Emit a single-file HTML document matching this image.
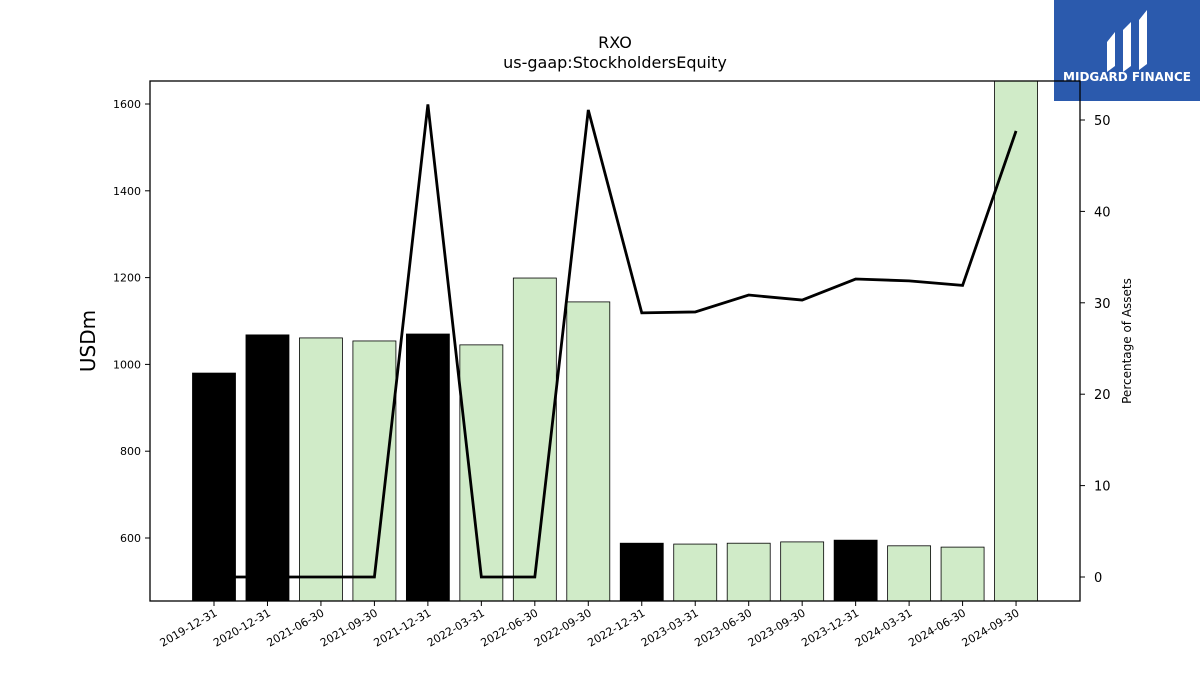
<!DOCTYPE html>
<html><head><meta charset="utf-8"><style>
body{margin:0;background:#fff;}
svg text{font-family:"DejaVu Sans","Liberation Sans",sans-serif;}
</style></head><body>
<svg id="c" width="1200" height="675" xmlns="http://www.w3.org/2000/svg">
<rect x="1054" y="0" width="146" height="101" fill="#2b5aad"/>
<g fill="#fff">
<path d="M1107 42 L1115 32 L1115 66 L1107 72 Z"/>
<path d="M1123 30 L1131 22 L1131 66 L1123 72 Z"/>
<path d="M1139 20 L1147 10 L1147 64 L1139 70 Z"/>
</g>
<text x="1127" y="81" fill="#fff" font-size="12" font-weight="bold" text-anchor="middle">MIDGARD FINANCE</text>
<text x="615" y="48" font-size="16" text-anchor="middle">RXO</text>
<text x="615" y="68" font-size="16" text-anchor="middle">us-gaap:StockholdersEquity</text>
<g id="bars"></g><g id="axes"></g>
<rect x="150" y="81" width="930" height="520" fill="none" stroke="#000" stroke-width="1.3"/>
<text transform="translate(95,341) rotate(-90)" font-size="20" text-anchor="middle">USDm</text>
<text transform="translate(1131,341) rotate(-90)" font-size="12" text-anchor="middle">Percentage of Assets</text>
</svg>
<script>
const categories=["2019-12-31","2020-12-31","2021-06-30","2021-09-30","2021-12-31","2022-03-31","2022-06-30","2022-09-30","2022-12-31","2023-03-31","2023-06-30","2023-09-30","2023-12-31","2024-03-31","2024-06-30","2024-09-30"];
const equity=[980,1068,1061,1054,1070,1045,1199,1144,588,586,588,591,595,582,579,1700];
const pctAssets=[0,0,0,0,51.7,0,0,51.1,28.9,29.0,30.85,30.3,32.6,32.4,31.9,48.8];
const leftTicks=[600,800,1000,1200,1400,1600];
const rightTicks=[0,10,20,30,40,50];
const NS="http://www.w3.org/2000/svg";
const X0=150,X1=1080,Y0=81,Y1=601;
const yL=v=>538-(v-600)*0.434;
const yR=v=>577-v*9.14;
const step=(X1-X0-80)/ (categories.length-1);
const xC=i=>214+i*53.47;
function mk(t,a,p){const e=document.createElementNS(NS,t);for(const k in a)e.setAttribute(k,a[k]);(p||document.getElementById('c')).appendChild(e);return e;}
const bars=document.getElementById('bars'),axes=document.getElementById('axes');
categories.forEach((c,i)=>{
 const top=Math.max(yL(equity[i]),Y0);
 const b=mk('rect',{x:xC(i)-21.5,y:top,width:43,height:Y1-top,fill:c.endsWith('12-31')?'#000':'#d0ebc8',stroke:'#000','stroke-width':0.8},bars);
 
 
 const t=mk('line',{x1:xC(i),x2:xC(i),y1:Y1,y2:Y1+5,stroke:'#000'},axes);
 
 
 const l=mk('text',{transform:`translate(${xC(i)+4},${Y1+14}) rotate(-30)`,'font-size':11,'text-anchor':'end'},axes);
 l.textContent=c;
 
 
});
leftTicks.forEach(v=>{
 const t=mk('line',{x1:X0-5,x2:X0,y1:yL(v),y2:yL(v),stroke:'#000'},axes);
 
 
 const l=mk('text',{x:X0-9,y:yL(v)+4,'font-size':11,'text-anchor':'end'},axes);
 l.textContent=v;
 
 
});
rightTicks.forEach(v=>{
 const t=mk('line',{x1:X1,x2:X1+5,y1:yR(v),y2:yR(v),stroke:'#000'},axes);
 
 
 const l=mk('text',{x:X1+14,y:yR(v)+5,'font-size':13},axes);
 l.textContent=v;
 
 
});
const ln=mk('polyline',{points:pctAssets.map((v,i)=>xC(i)+','+yR(v)).join(' '),fill:'none',stroke:'#000','stroke-width':2.8},axes);


</script>
</body></html>
